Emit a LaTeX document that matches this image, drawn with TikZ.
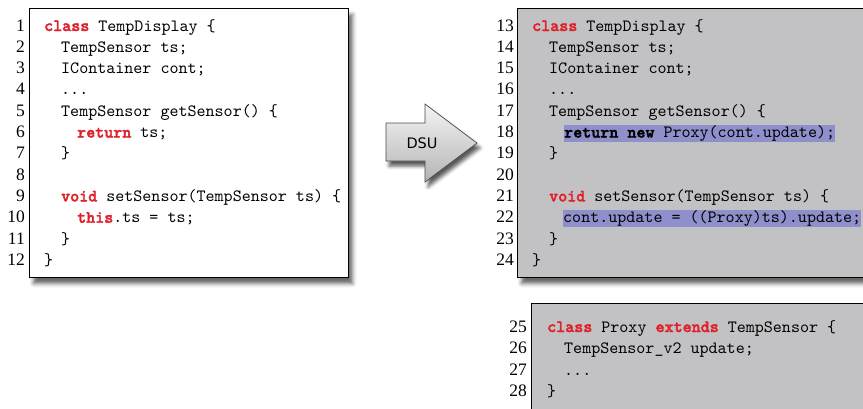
\documentclass[tikz,border=0pt]{standalone}
\usepackage{fontspec}
\usetikzlibrary{shadows.blur}
\newfontfamily\codefont{lmmono10-regular}[Extension=.otf]
\newfontfamily\kwfont{lmmonolt10-bold}[Extension=.otf, FakeBold=2]
\newfontfamily\numfont{Liberation Serif}
\newfontfamily\dsufont{DejaVu Sans}
\definecolor{kwred}{HTML}{E0202A}
\definecolor{boxgray}{HTML}{C2C2C4}
\definecolor{hlblue}{HTML}{8E8FCB}
\definecolor{arrowtop}{HTML}{F4F4F4}
\definecolor{arrowbot}{HTML}{B4B4B4}
% keyword markup: red bold, or plain bold on highlighted lines
\newcommand\kwd[1]{{\kwfont\color{kwred}#1}}
\newcommand\kwb[1]{{\kwfont#1}}
\tikzset{
  x=1pt, y=-1pt,
  boxshadow/.style={blur shadow={shadow xshift=4pt, shadow yshift=-6pt,
      shadow blur radius=4pt, shadow opacity=60}},
  codebox/.style={draw=black, line width=1.2pt, rectangle, inner sep=0pt,
      anchor=north west, boxshadow},
  whitebox/.style={codebox, fill=white},
  graybox/.style={codebox, fill=boxgray},
  lnum/.style={anchor=base east, inner sep=0pt,
      font=\numfont\fontsize{17.5}{20}\selectfont},
  code/.style={anchor=base west, inner sep=0pt,
      font=\codefont\fontsize{17.2}{21}\selectfont},
  hlcode/.style={code, fill=hlblue, text height=13pt, text depth=4.5pt},
}
\begin{document}
\begin{tikzpicture}
\useasboundingbox (0,0) rectangle (863,408);

% ---- code frames ----
\node[whitebox, minimum width=319pt, minimum height=269pt] (oldbox) at (29,8) {};
\node[graybox, minimum width=380pt, minimum height=269pt] (newbox) at (517,8) {};
\node[graybox, minimum width=370pt, minimum height=130pt] (proxybox) at (531,303) {};

% ---- DSU arrow ----
\shade[top color=arrowtop, bottom color=arrowbot, draw=black!70, line width=0.7pt,
  blur shadow={shadow xshift=3pt, shadow yshift=-5pt, shadow blur radius=3.5pt, shadow opacity=65}]
  (386,123) -- (425,123) -- (425,104) -- (477,143) -- (425,182) -- (425,161)
  -- (386,161) -- cycle;
\node[font=\dsufont\fontsize{14.5}{17}\selectfont, inner sep=0pt] (dsu) at (422,143) {DSU};

% ---- original class ----
\foreach \n [count=\k from 0] in {1,...,12}
  \node[lnum] (o\n) at (25,31+\k*21.3) {\n};
\node[code] (c1)  at (44,31+0*21.3)  {\kwd{class} TempDisplay \{};
\node[code] (c2)  at (61,31+1*21.3)  {TempSensor ts;};
\node[code] (c3)  at (61,31+2*21.3)  {IContainer cont;};
\node[code] (c4)  at (61,31+3*21.3)  {...};
\node[code] (c5)  at (61,31+4*21.3)  {TempSensor getSensor() \{};
\node[code] (c6)  at (77,31+5*21.3)  {\kwd{return} ts;};
\node[code] (c7)  at (61,31+6*21.3)  {\}};
\node[code] (c9)  at (61,31+8*21.3)  {\kwd{void} setSensor(TempSensor ts) \{};
\node[code] (c10) at (77,31+9*21.3)  {\kwd{this}.ts = ts;};
\node[code] (c11) at (61,31+10*21.3) {\}};
\node[code] (c12) at (44,31+11*21.3) {\}};

% ---- updated class ----
\foreach \n [count=\k from 0] in {13,...,24}
  \node[lnum] (o\n) at (514,31+\k*21.3) {\n};
\node[code] (c13) at (532,31+0*21.3)  {\kwd{class} TempDisplay \{};
\node[code] (c14) at (549,31+1*21.3)  {TempSensor ts;};
\node[code] (c15) at (549,31+2*21.3)  {IContainer cont;};
\node[code] (c16) at (549,31+3*21.3)  {...};
\node[code] (c17) at (549,31+4*21.3)  {TempSensor getSensor() \{};
\node[hlcode] (c18) at (564,31+5*21.3) {\kwb{return} \kwb{new} Proxy(cont.update);};
\node[code] (c19) at (549,31+6*21.3)  {\}};
\node[code] (c21) at (549,31+8*21.3)  {\kwd{void} setSensor(TempSensor ts) \{};
\node[hlcode] (c22) at (563,31+9*21.3) {cont.update = ((Proxy)ts).update;};
\node[code] (c23) at (549,31+10*21.3) {\}};
\node[code] (c24) at (532,31+11*21.3) {\}};

% ---- proxy class ----
\foreach \n [count=\k from 0] in {25,...,28}
  \node[lnum] (o\n) at (527,332+\k*21.6) {\n};
\node[code] (c25) at (547,332+0*21.6) {\kwd{class} Proxy \kwd{extends} TempSensor \{};
\node[code] (c26) at (564,332+1*21.6) {TempSensor\_v2 update;};
\node[code] (c27) at (564,332+2*21.6) {...};
\node[code] (c28) at (547,332+3*21.6) {\}};
\end{tikzpicture}
\end{document}
